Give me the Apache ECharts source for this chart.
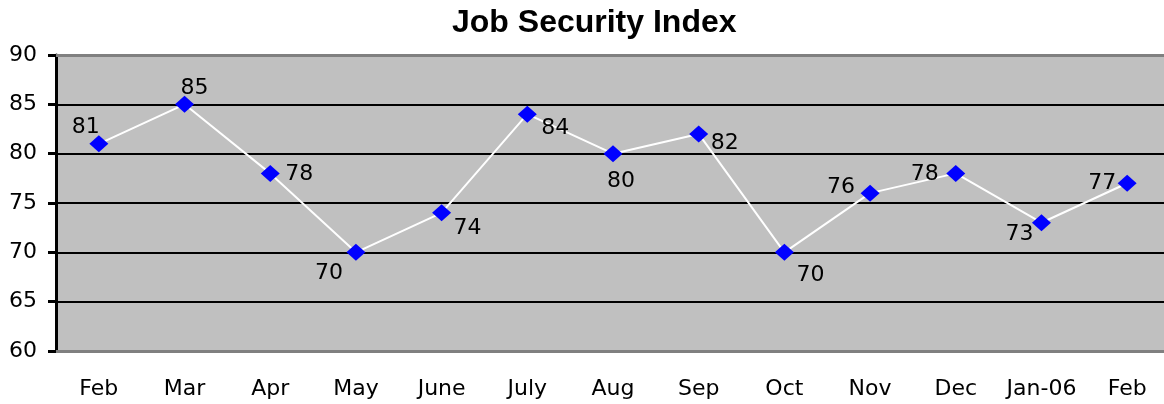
<!DOCTYPE html>
<html><head><meta charset="utf-8">
<script src="https://cdn.jsdelivr.net/npm/echarts@6/dist/echarts.min.js"></script>
<style>html,body{margin:0;padding:0;background:#fff;overflow:hidden}#c{width:1172px;height:404px}</style>
</head><body><div id="c"></div>
<script>
const categories = ['Feb','Mar','Apr','May','June','July','Aug','Sep','Oct','Nov','Dec','Jan-06','Feb'];
const values = [81,85,78,70,74,84,80,82,70,76,78,73,77];
const labelOffsets = [[-13,-17],[10,-16],[29,1],[-27,21],[26,15],[28,14],[8,28],[26,9],[26,23],[-29,-6],[-31,1],[-22,12],[-25,0]];
const yTicks = {min:60, max:90, interval:5};

const font = 'DejaVu Sans';
const chart = echarts.init(document.getElementById('c'));
chart.setOption({
  animation:false,
  title:{text:'Job Security Index', left:447, top:2,
    textStyle:{fontFamily:'Liberation Sans, Arial', fontWeight:'bold', fontSize:32, color:'#000'}},
  grid:{left:56, top:55, width:1114, bottom:53, show:true, backgroundColor:'#C0C0C0', borderWidth:0},
  xAxis:[{type:'category', data:categories, boundaryGap:true,
    axisLine:{lineStyle:{color:'#808080', width:3}},
    axisTick:{show:false},
    axisLabel:{fontFamily:font, fontSize:22, color:'#000', margin:27, interval:0}},
   {type:'category', position:'top', data:categories,
    axisLine:{lineStyle:{color:'#808080', width:3}}, axisTick:{show:false}, axisLabel:{show:false}}],
  yAxis:{type:'value', min:yTicks.min, max:yTicks.max, interval:yTicks.interval,
    axisLine:{show:true, lineStyle:{color:'#000', width:3}},
    axisTick:{show:true, length:8, lineStyle:{color:'#000', width:3}},
    axisLabel:{fontFamily:font, fontSize:22, color:'#000', margin:19},
    splitLine:{lineStyle:{color:['#808080','#000','#000','#000','#000','#000','#808080'], width:2}}},
  series:[{type:'line', data:values.map((v,i)=>({value:v, label:{offset:labelOffsets[i]}})),
    lineStyle:{color:'#fff', width:2},
    symbol:'diamond', symbolSize:[19,17],
    itemStyle:{color:'#0000FF'},
    label:{show:true, position:'inside', fontFamily:font, fontSize:22, color:'#000'}}]
});
</script></body></html>
